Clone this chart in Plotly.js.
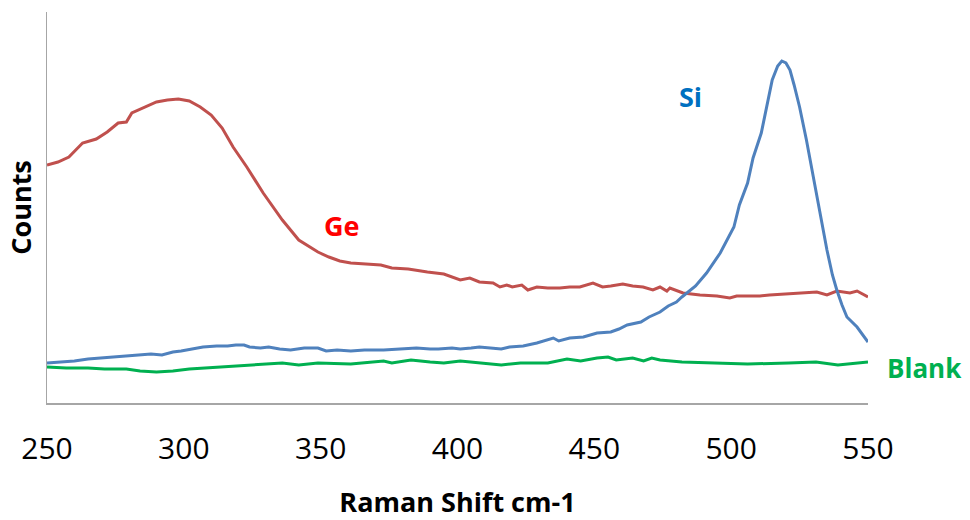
<!DOCTYPE html>
<html>
<head>
<meta charset="utf-8">
<script src="https://cdn.plot.ly/plotly-3.0.1.min.js"></script>
<style>
  html, body { margin: 0; padding: 0; background: #ffffff; }
  #chart { width: 970px; height: 520px; }
</style>
</head>
<body>
<div id="chart"></div>
<script>
// Raman spectra: Ge, Si and a blank reference (counts in arbitrary units)
const geShift = [250, 254, 258, 263, 268, 272, 276, 279, 281, 286, 290, 294, 298, 302, 306, 310, 314, 318, 323, 329, 336, 342, 349, 353, 357, 361, 366, 372, 376, 382, 389, 395, 401, 404.5, 408, 413, 415.5, 418, 420, 423.5, 425.7, 429, 433, 437.4, 441, 444.7, 449.5, 453, 456, 460.4, 464, 467.8, 471.4, 474, 476.5, 477.6, 482.4, 488.6, 494.8, 499.5, 502, 506, 510.5, 514, 518.9, 522, 525, 531.3, 535, 538.6, 543.4, 546, 550];
const geCounts = [2380, 2410, 2460, 2600, 2640, 2710, 2800, 2810, 2900, 2960, 3010, 3030, 3040, 3020, 2960, 2880, 2750, 2560, 2360, 2100, 1830, 1630, 1510, 1460, 1420, 1400, 1390, 1380, 1350, 1340, 1310, 1290, 1230, 1250, 1210, 1200, 1160, 1180, 1160, 1180, 1130, 1160, 1150, 1150, 1160, 1160, 1200, 1160, 1170, 1190, 1170, 1160, 1130, 1160, 1120, 1150, 1100, 1080, 1070, 1050, 1070, 1070, 1070, 1080, 1090, 1095, 1100, 1110, 1080, 1120, 1100, 1120, 1060];

const siShift = [250, 255, 260, 265, 269, 274, 279, 284, 288, 292, 296, 299, 303, 307, 312, 316, 319, 322, 324, 328, 331, 335, 339, 344, 349, 352, 356, 361, 366, 373, 379, 385, 390, 393, 398, 401, 405, 408, 412, 416, 419, 424, 429, 433, 435, 437, 441, 446, 451, 456, 459, 462, 467, 470, 474, 477, 480, 482, 487, 491, 496, 501, 503, 506, 508, 511, 513, 515, 517, 518.5, 520, 521.5, 523, 525, 527.5, 530, 532.5, 535, 537, 538.6, 540.5, 542.3, 546, 548, 550];
const siCounts = [400, 410, 420, 440, 450, 460, 470, 480, 490, 480, 510, 520, 540, 560, 570, 570, 580, 580, 560, 550, 560, 540, 530, 550, 550, 520, 530, 520, 530, 530, 540, 550, 540, 540, 550, 540, 550, 560, 550, 540, 560, 570, 600, 630, 650, 620, 650, 660, 700, 710, 740, 780, 810, 860, 910, 970, 1010, 1060, 1170, 1300, 1500, 1760, 1980, 2200, 2450, 2700, 2980, 3230, 3370, 3420, 3400, 3330, 3180, 2960, 2630, 2260, 1880, 1530, 1280, 1130, 980, 860, 760, 680, 610];

const blankShift = [250, 257, 265, 271, 279, 284, 290, 296, 302, 308, 316, 320, 328, 330, 336, 342, 349, 361, 373, 376, 383, 390, 395, 401, 408, 416, 423, 433, 440, 445, 451, 455, 458, 464, 468, 471, 474, 482, 494, 506, 521, 531, 539, 550];
const blankCounts = [360, 350, 350, 340, 340, 320, 310, 320, 340, 350, 370, 370, 390, 390, 400, 380, 400, 390, 420, 400, 430, 410, 400, 420, 400, 380, 400, 400, 440, 420, 450, 460, 430, 450, 420, 450, 430, 410, 400, 390, 400, 410, 380, 410];

const tickValues = [250, 300, 350, 400, 450, 500, 550];

const FONT = '"Open Sans", "Noto Sans", sans-serif';

const traces = [
  { x: geShift, y: geCounts, name: 'Ge', mode: 'lines', line: { color: '#C0504D', width: 3 } },
  { x: siShift, y: siCounts, name: 'Si', mode: 'lines', line: { color: '#4F81BD', width: 3 } },
  { x: blankShift, y: blankCounts, name: 'Blank', mode: 'lines', line: { color: '#00B050', width: 3 } }
];

const layout = {
  width: 970,
  height: 520,
  margin: { l: 47, r: 102, t: 12, b: 117 },
  paper_bgcolor: '#ffffff',
  plot_bgcolor: '#ffffff',
  showlegend: false,
  font: { family: FONT, color: '#000000' },
  xaxis: {
    range: [250, 550],
    tickvals: tickValues,
    ticktext: tickValues.map(String),
    ticks: '',
    ticklabelstandoff: 18,
    tickfont: { family: FONT, size: 30, color: '#000000' },
    showgrid: false,
    zeroline: false,
    showline: true,
    linecolor: '#A6A6A6',
    linewidth: 1.5,
    title: { text: 'Raman Shift cm-1', font: { family: FONT, size: 27, color: '#000000', weight: 700 }, standoff: 44 }
  },
  yaxis: {
    range: [0, 3910],
    showticklabels: false,
    ticks: '',
    showgrid: false,
    zeroline: false,
    showline: true,
    linecolor: '#A6A6A6',
    linewidth: 1.5,
    title: { text: 'Counts', font: { family: FONT, size: 27, color: '#000000', weight: 700 }, standoff: 6 }
  },
  annotations: [
    { x: 357.8, y: 1780, xref: 'x', yref: 'y', text: 'Ge', showarrow: false,
      font: { family: FONT, size: 27, color: '#FF0000', weight: 700 } },
    { x: 485.3, y: 3070, xref: 'x', yref: 'y', text: 'Si', showarrow: false,
      font: { family: FONT, size: 27, color: '#0070C0', weight: 700 } },
    { x: 1.0694, y: 350, xref: 'paper', yref: 'y', xanchor: 'center', text: 'Blank', showarrow: false,
      font: { family: FONT, size: 26, color: '#00B050', weight: 700 } }
  ]
};

Plotly.newPlot('chart', traces, layout, { displayModeBar: false, staticPlot: true });
</script>
</body>
</html>
